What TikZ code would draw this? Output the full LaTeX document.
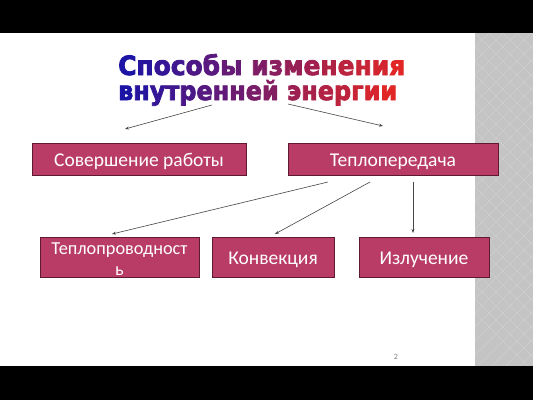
\documentclass[tikz,border=0pt]{standalone}
\usepackage{fontspec}
\setmainfont{Carlito}
\newfontfamily\titlefont{DejaVu Sans}[UprightFont={* Bold}, FakeBold=3]
\usetikzlibrary{arrows.meta}
\definecolor{tblue}{RGB}{28,20,165}
\definecolor{tred}{RGB}{225,38,38}
\definecolor{boxfill}{RGB}{185,60,102}
\definecolor{boxline}{RGB}{95,25,50}
\definecolor{stripgray}{RGB}{196,196,196}
\definecolor{arrowgray}{RGB}{70,70,70}
\newcommand{\tl}[2]{\textcolor{tred!#1!tblue}{#2}}
\tikzset{
  boxbase/.style={draw=boxline, line width=0.8pt, fill=boxfill, text=white,
    font=\fontsize{19.5}{21}\selectfont, inner sep=0pt},
  box/.style={boxbase, text height=14pt, text depth=0pt},
  conn/.style={draw=arrowgray, line width=0.6pt, -{Stealth[length=4pt,width=3pt]}}
}
\begin{document}
\begin{tikzpicture}[x=1pt,y=-1pt]
\useasboundingbox (0,0) rectangle (533,400);
\fill[white] (0,0) rectangle (533,400);
\fill[stripgray] (475,33) rectangle (533,366);
\begin{scope}
\clip (475,33) rectangle (533,366);
\foreach \k in {-20,...,40} {
  \draw[white!18!stripgray, line width=0.5pt] (475+\k*14,33) -- ++(340,340);
  \draw[white!18!stripgray, line width=0.5pt] (475+\k*14,33) -- ++(-340,340);
}
\end{scope}
\fill[black] (0,0) rectangle (533,33);
\fill[black] (0,366) rectangle (533,400);

% title
\node[anchor=base west, inner sep=0pt] (t1) at (118,75)
 {\titlefont\resizebox{287pt}{21pt}{\tl{0}{С}\tl{6}{п}\tl{12}{о}\tl{18}{с}\tl{25}{о}\tl{31}{б}\tl{37}{ы} \tl{50}{и}\tl{56}{з}\tl{62}{м}\tl{68}{е}\tl{75}{н}\tl{81}{е}\tl{87}{н}\tl{93}{и}\tl{100}{я}}};
\node[anchor=base west, inner sep=0pt] (t2) at (118,100)
 {\titlefont\resizebox{279pt}{20pt}{\tl{0}{в}\tl{6}{н}\tl{12}{у}\tl{18}{т}\tl{24}{р}\tl{29}{е}\tl{35}{н}\tl{41}{н}\tl{47}{е}\tl{53}{й} \tl{65}{э}\tl{71}{н}\tl{76}{е}\tl{82}{р}\tl{88}{г}\tl{94}{и}\tl{100}{и}}};

% boxes
\node[box, minimum width=214pt, minimum height=32pt] (work) at (139,159) {Совершение работы};
\node[box, minimum width=210pt, minimum height=32pt] (heat) at (393,159) {Теплопередача};
\node[boxbase, font=\fontsize{18.3}{21}\selectfont, text height=36pt, text depth=0pt, minimum width=159pt, minimum height=40pt] (cond) at (119.5,257) {\begin{tabular}[b]{@{}c@{}}Теплопроводност\\ь\end{tabular}};
\node[box, minimum width=122pt, minimum height=40pt] (conv) at (273,257) {Конвекция};
\node[box, minimum width=130pt, minimum height=40pt] (rad) at (424,257) {Излучение};

% arrow coordinates
\coordinate (a1s) at (212,105);
\coordinate (a1e) at (125,129);
\coordinate (a2s) at (288,104);
\coordinate (a2e) at (383,126);
\coordinate (b1s) at (328,182);
\coordinate (b1e) at (112,234);
\coordinate (b2s) at (370,182);
\coordinate (b2e) at (275,234);
\coordinate (b3s) at (413,182);
\coordinate (b3e) at (413,233);
\draw[conn] (a1s) -- (a1e);
\draw[conn] (a2s) -- (a2e);
\draw[conn] (b1s) -- (b1e);
\draw[conn] (b2s) -- (b2e);
\draw[conn] (b3s) -- (b3e);

\node[text=gray, font=\fontsize{8}{9}\selectfont] (pg) at (396,357) {2};
\end{tikzpicture}
\end{document}
